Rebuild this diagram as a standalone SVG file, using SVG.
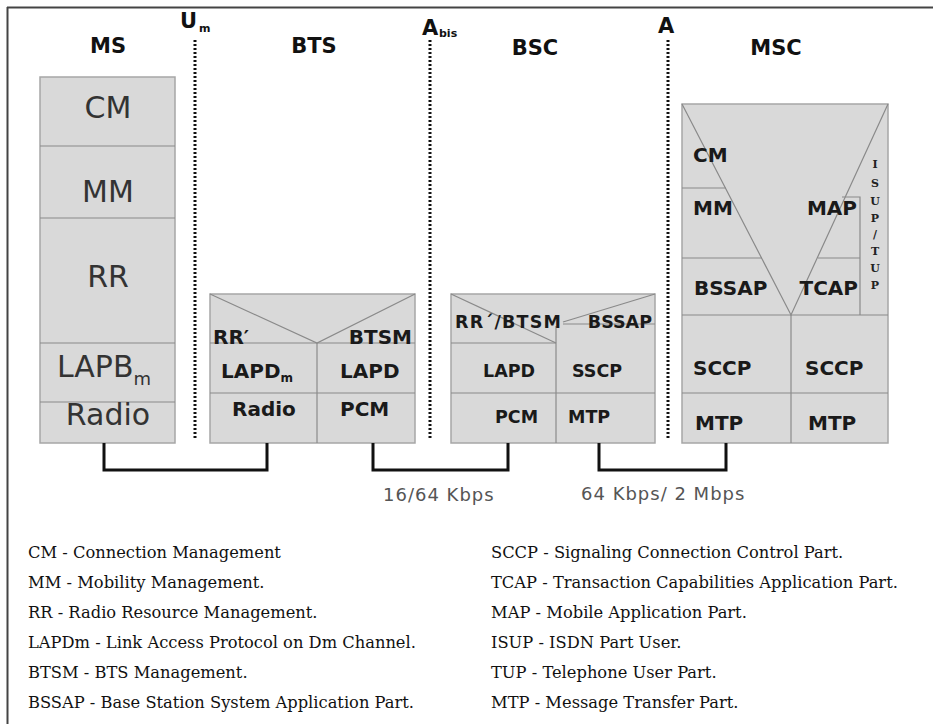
<svg xmlns="http://www.w3.org/2000/svg" width="933" height="724" viewBox="0 0 933 724">
<style>
.box{fill:#d9d9d9;stroke:#a6a6a6;stroke-width:1.5}
.div{stroke:#8a8a8a;stroke-width:1.2;fill:none}
.dot{stroke:#111;stroke-width:3;stroke-dasharray:2 2;fill:none}
.con{stroke:#111;stroke-width:3;fill:none}
.hd{font-family:"DejaVu Sans",Verdana,sans-serif;font-weight:bold;font-size:21px;fill:#111}
.big{font-family:"DejaVu Sans",Verdana,sans-serif;font-size:30px;fill:#333;text-anchor:middle}
.lb{font-family:"DejaVu Sans",Verdana,sans-serif;font-weight:bold;font-size:20px;fill:#1a1a1a}
.sm{font-family:"DejaVu Sans",Verdana,sans-serif;font-weight:bold;font-size:17.5px;fill:#1a1a1a}
.rate{font-family:"DejaVu Sans",Verdana,sans-serif;font-size:18px;letter-spacing:1px;fill:#555}
.leg{font-family:"DejaVu Serif","Liberation Serif",serif;font-size:16.3px;fill:#111}
.vt{font-family:"DejaVu Serif",serif;font-weight:bold;font-size:11px;fill:#222;text-anchor:middle}
</style>
<rect x="0" y="0" width="933" height="724" fill="#fff"/>
<g id="frame">
<line x1="7" y1="7.5" x2="933" y2="7.5" stroke="#444" stroke-width="2"/>
<line x1="7.5" y1="7" x2="7.5" y2="724" stroke="#444" stroke-width="2"/>
</g>
<g id="headers">
<text class="hd" x="108" y="53" text-anchor="middle">MS</text>
<text class="hd" x="314" y="53" text-anchor="middle">BTS</text>
<text class="hd" x="535" y="55" text-anchor="middle">BSC</text>
<text class="hd" x="776" y="55" text-anchor="middle">MSC</text>
</g>
<g id="interfaces">
<line class="dot" x1="195" y1="40" x2="195" y2="440"/>
<line class="dot" x1="430" y1="40" x2="430" y2="440"/>
<line class="dot" x1="668" y1="40" x2="668" y2="440"/>
<text class="hd" x="180" y="28">U</text>
<text class="hd" x="199" y="32" style="font-size:11px">m</text>
<text class="hd" x="422" y="35">A</text>
<text class="hd" x="439" y="37" style="font-size:11px">bis</text>
<text class="hd" x="658" y="33">A</text>
</g>
<g id="ms">
<rect class="box" x="40" y="77" width="135" height="366"/>
<line class="div" x1="40" y1="146" x2="175" y2="146"/>
<line class="div" x1="40" y1="218" x2="175" y2="218"/>
<line class="div" x1="40" y1="343" x2="175" y2="343"/>
<line class="div" x1="40" y1="402" x2="175" y2="402"/>
<text class="big" x="108" y="118">CM</text>
<text class="big" x="108" y="202">MM</text>
<text class="big" x="108" y="287">RR</text>
<text class="big" x="104" y="377">LAPB<tspan dy="8" style="font-size:18px">m</tspan></text>
<text class="big" x="108" y="425">Radio</text>
</g>
<g id="bts">
<rect class="box" x="210" y="294" width="205" height="149"/>
<polyline class="div" points="210,294 317,343 415,294"/>
<line class="div" x1="210" y1="343" x2="415" y2="343"/>
<line class="div" x1="317" y1="343" x2="317" y2="443"/>
<line class="div" x1="210" y1="393" x2="415" y2="393"/>
<text class="lb" x="213" y="344">RR′</text>
<text class="lb" x="412" y="344" text-anchor="end">BTSM</text>
<text class="lb" x="221" y="378">LAPD<tspan dy="4" style="font-size:12px">m</tspan></text>
<text class="lb" x="340" y="378">LAPD</text>
<text class="lb" x="232" y="416">Radio</text>
<text class="lb" x="340" y="416">PCM</text>
</g>
<g id="bsc">
<rect class="box" x="451" y="294" width="204" height="149"/>
<line class="div" x1="451" y1="294" x2="556" y2="343"/>
<line class="div" x1="451" y1="343" x2="556" y2="343"/>
<line class="div" x1="655" y1="294" x2="563" y2="322"/>
<line class="div" x1="563" y1="324" x2="655" y2="324"/>
<line class="div" x1="556" y1="326" x2="556" y2="443"/>
<line class="div" x1="451" y1="393" x2="655" y2="393"/>
<text class="sm" x="455" y="328" textLength="106" lengthAdjust="spacing">RR´/BTSM</text>
<text class="sm" x="652" y="328" text-anchor="end">BSSAP</text>
<text class="sm" x="483" y="377">LAPD</text>
<text class="sm" x="572" y="377">SSCP</text>
<text class="sm" x="495" y="423">PCM</text>
<text class="sm" x="568" y="423">MTP</text>
</g>
<g id="msc">
<rect class="box" x="682" y="104" width="206" height="339"/>
<polyline class="div" points="682,104 791,315 888,104"/>
<line class="div" x1="682" y1="188" x2="726" y2="188"/>
<line class="div" x1="682" y1="258" x2="762" y2="258"/>
<polyline class="div" points="842,197 860,197 860,315"/>
<line class="div" x1="818" y1="258" x2="860" y2="258"/>
<line class="div" x1="682" y1="315" x2="888" y2="315"/>
<line class="div" x1="791" y1="315" x2="791" y2="443"/>
<line class="div" x1="682" y1="393" x2="888" y2="393"/>
<text class="lb" x="693" y="162">CM</text>
<text class="lb" x="693" y="215">MM</text>
<text class="lb" x="857" y="215" text-anchor="end">MAP</text>
<text class="lb" x="694" y="295">BSSAP</text>
<text class="lb" x="858" y="295" text-anchor="end">TCAP</text>
<text class="lb" x="693" y="375">SCCP</text>
<text class="lb" x="805" y="375">SCCP</text>
<text class="lb" x="695" y="430">MTP</text>
<text class="lb" x="808" y="430">MTP</text>
<text class="vt" x="875" y="168">I</text>
<text class="vt" x="875" y="187">S</text>
<text class="vt" x="875" y="205">U</text>
<text class="vt" x="875" y="222">P</text>
<text class="vt" x="875" y="238">/</text>
<text class="vt" x="875" y="255">T</text>
<text class="vt" x="875" y="272">U</text>
<text class="vt" x="875" y="289">P</text>
</g>
<g id="connectors">
<polyline class="con" points="104,443 104,470 267,470 267,443"/>
<polyline class="con" points="373,443 373,470 508,470 508,443"/>
<polyline class="con" points="599,443 599,470 726,470 726,443"/>
</g>
<g id="rates">
<text class="rate" x="383" y="501">16/64 Kbps</text>
<text class="rate" x="581" y="500">64 Kbps/ 2 Mbps</text>
</g>
<g id="legend">
<text class="leg" x="28" y="558">CM - Connection Management</text>
<text class="leg" x="28" y="588">MM - Mobility Management.</text>
<text class="leg" x="28" y="618">RR - Radio Resource Management.</text>
<text class="leg" x="28" y="648">LAPDm - Link Access Protocol on Dm Channel.</text>
<text class="leg" x="28" y="678">BTSM - BTS Management.</text>
<text class="leg" x="28" y="708">BSSAP - Base Station System Application Part.</text>
<text class="leg" x="491" y="558">SCCP - Signaling Connection Control Part.</text>
<text class="leg" x="491" y="588">TCAP - Transaction Capabilities Application Part.</text>
<text class="leg" x="491" y="618">MAP - Mobile Application Part.</text>
<text class="leg" x="491" y="648">ISUP - ISDN Part User.</text>
<text class="leg" x="491" y="678">TUP - Telephone User Part.</text>
<text class="leg" x="491" y="708">MTP - Message Transfer Part.</text>
</g>
</svg>
